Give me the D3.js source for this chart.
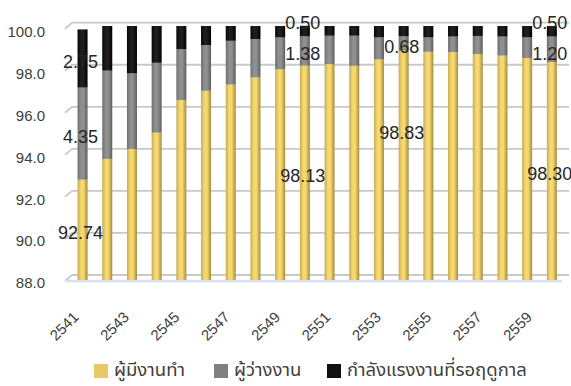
<!DOCTYPE html>
<html>
<head>
<meta charset="utf-8">
<script src="https://d3js.org/d3.v7.min.js"></script>
<style>
  body { margin: 0; background: #fff; }
  text { font-family: "Liberation Sans", Arial, sans-serif; }
  .thai { font-family: "Noto Sans Thai", "Noto Sans", "DejaVu Sans", sans-serif; }
</style>
</head>
<body>
<div id="chart"></div>
<script>
var years = ["2541","2542","2543","2544","2545","2546","2547","2548","2549","2550",
             "2551","2552","2553","2554","2555","2556","2557","2558","2559","2560"];
var employed   = [92.74, 93.72, 94.19, 94.96, 96.50, 96.94, 97.23, 97.57, 97.95, 98.13,
                  98.20, 98.12, 98.42, 98.83, 98.78, 98.76, 98.68, 98.60, 98.49, 98.30];
var unemployed = [4.35, 4.17, 3.57, 3.30, 2.40, 2.16, 2.07, 1.81, 1.51, 1.38,
                  1.34, 1.42, 1.04, 0.68, 0.68, 0.74, 0.85, 0.90, 0.97, 1.20];
var seasonal   = [2.75, 2.11, 2.24, 1.74, 1.10, 0.90, 0.70, 0.62, 0.54, 0.50,
                  0.46, 0.46, 0.54, 0.49, 0.54, 0.50, 0.47, 0.50, 0.54, 0.50];
var seriesNames = ["ผู้มีงานทำ", "ผู้ว่างงาน", "กำลังแรงงานที่รอฤดูกาล"];
var yTicks = [88, 90, 92, 94, 96, 98, 100];
var xTickYears = ["2541","2543","2545","2547","2549","2551","2553","2555","2557","2559"];
// which bars get value labels: [year, series index]
var labelled = [["2541",0],["2541",1],["2541",2],["2550",0],["2550",1],["2550",2],
                ["2554",0],["2554",1],["2560",0],["2560",1],["2560",2]];

var W = 571, H = 386;
var svg = d3.select("#chart").append("svg").attr("width", W).attr("height", H);

var colors = [
  {edge1: "#c7ab50", mid: "#f5d970", edge2: "#a48b3c", swatch: "#e8c964"},
  {edge1: "#6f6f6f", mid: "#909090", edge2: "#5e5e5e", swatch: "#808080"},
  {edge1: "#050505", mid: "#1e1e1e", edge2: "#000000", swatch: "#111111"}
];

var defs = svg.append("defs");
colors.forEach(function(c, i) {
  var g = defs.append("linearGradient").attr("id", "cyl" + i)
      .attr("x1", "0%").attr("x2", "100%").attr("y1", "0%").attr("y2", "0%");
  g.append("stop").attr("offset", "0%").attr("stop-color", c.edge1);
  g.append("stop").attr("offset", "35%").attr("stop-color", c.mid);
  g.append("stop").attr("offset", "60%").attr("stop-color", c.mid);
  g.append("stop").attr("offset", "100%").attr("stop-color", c.edge2);
});

// bars sit in the middle of the 3d box, gridlines on the back wall, labels in front
var yBar = d3.scaleLinear().domain([88, 100]).range([280, 26]);
var yGrid = d3.scaleLinear().domain([88, 100]).range([275, 22.7]);
var yLab = d3.scaleLinear().domain([88, 100]).range([283, 32]);

var x = d3.scaleBand().domain(years).range([70.2, 564.2])
    .paddingInner(0.595).paddingOuter(0.2975);
var xLab = d3.scaleLinear().domain([0, 18]).range([79.6, 533]);

// gridlines
var grid = svg.append("g");
yTicks.forEach(function(v) {
  grid.append("line")
    .attr("x1", 72).attr("x2", 569)
    .attr("y1", yGrid(v)).attr("y2", yGrid(v))
    .attr("stroke", "#c9c9c9").attr("stroke-width", 1.8);
  grid.append("line")
    .attr("x1", 65).attr("x2", 72)
    .attr("y1", yGrid(v) + 6).attr("y2", yGrid(v))
    .attr("stroke", "#c9c9c9").attr("stroke-width", 1.8);
});
// floor
svg.append("line").attr("x1", 65).attr("x2", 562)
  .attr("y1", 281).attr("y2", 281)
  .attr("stroke", "#d5e0f0").attr("stroke-width", 2.5);

// y labels
svg.append("g").selectAll("text").data(yTicks).enter().append("text")
  .attr("x", 45).attr("y", function(d) { return yLab(d); })
  .attr("dy", "0.35em")
  .attr("text-anchor", "end")
  .attr("font-size", 15)
  .attr("fill", "#404040")
  .text(function(d) { return d.toFixed(1); });

// stacked bars
var table = years.map(function(y, i) {
  return {year: y, s0: employed[i], s1: unemployed[i], s2: seasonal[i]};
});
var stack = d3.stack().keys(["s0", "s1", "s2"]);
var layers = stack(table);

layers.forEach(function(layer, li) {
  svg.append("g").selectAll("rect").data(layer).enter().append("rect")
    .attr("x", function(d) { return x(d.data.year); })
    .attr("width", x.bandwidth())
    .attr("y", function(d) { return yBar(d[1]); })
    .attr("height", function(d) {
      var lo = Math.max(d[0], 88);
      return Math.max(0, yBar(lo) - yBar(d[1]));
    })
    .attr("fill", "url(#cyl" + li + ")");
});

// value labels
var nudge = {"2554-0": -33, "2550-2": -8, "2560-2": -9, "2560-1": 4};
labelled.forEach(function(l) {
  var i = years.indexOf(l[0]);
  var d = layers[l[1]][i];
  var mid = (Math.max(d[0], 88) + d[1]) / 2;
  var val = [employed, unemployed, seasonal][l[1]][i];
  var dy = nudge[l[0] + "-" + l[1]];
  if (dy === undefined) dy = 3;
  svg.append("text")
    .attr("x", x(l[0]) + x.bandwidth() / 2 - 2)
    .attr("y", yBar(mid) + dy)
    .attr("dy", "0.35em")
    .attr("text-anchor", "middle")
    .attr("font-size", 18)
    .attr("fill", "#262626")
    .text(val.toFixed(2));
});

// x labels
svg.append("g").selectAll("text").data(xTickYears).enter().append("text")
  .attr("transform", function(d) {
    return "translate(" + xLab(years.indexOf(d)) + ",318) rotate(-45)";
  })
  .attr("text-anchor", "end")
  .attr("font-size", 15)
  .attr("fill", "#404040")
  .text(function(d) { return d; });

// legend
var legendX = [94, 214, 327];
var leg = svg.append("g");
seriesNames.forEach(function(name, i) {
  leg.append("rect").attr("x", legendX[i]).attr("y", 364)
    .attr("width", 14).attr("height", 14).attr("fill", colors[i].swatch);
  leg.append("text").attr("class", "thai")
    .attr("x", legendX[i] + 20).attr("y", 370).attr("dy", "0.35em")
    .attr("font-size", 18.5).attr("fill", "#404040")
    .text(name);
});
</script>
</body>
</html>
